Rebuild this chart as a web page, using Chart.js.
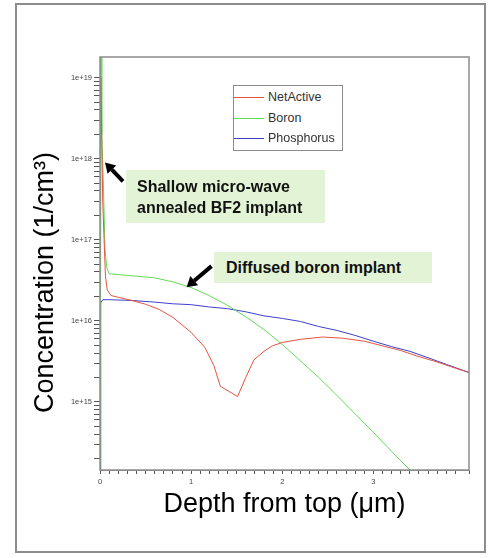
<!DOCTYPE html>
<html>
<head>
<meta charset="utf-8">
<title>Doping profile</title>
<script src="https://cdn.jsdelivr.net/npm/chart.js@4.4.1/dist/chart.umd.min.js"></script>
<style>
    html, body { margin: 0; padding: 0; background: #fff; }
    #wrap { position: relative; width: 491px; height: 558px; font-family: "Liberation Sans", Arial, sans-serif; }
    #chart { position: absolute; left: 0; top: 0; }
    #frame { position: absolute; left: 15px; top: 3px; width: 467px; height: 546px; border: 2px solid #8c8c8c; pointer-events: none; }
    .legend { position: absolute; left: 233px; top: 85px; width: 108px; height: 64px; border: 1px solid #8c8c8c; background: #fff; font-size: 12.5px; color: #333; }
    .legend-row { position: absolute; left: 0; width: 108px; height: 16px; line-height: 16px; }
    .legend-line { position: absolute; left: 0; top: 8px; width: 30px; height: 1px; }
    .legend-text { position: absolute; left: 34px; top: 0; white-space: nowrap; }
    .note { position: absolute; background: #e2f3d6; font-weight: bold; font-size: 16px; color: #111; white-space: nowrap; }
    #note1 { left: 126px; top: 170px; width: 188px; height: 47px; padding: 6px 0 0 11px; line-height: 21px; }
    #note2 { left: 214px; top: 252px; width: 206px; height: 31px; padding: 0 0 0 12px; line-height: 31px; }
</style>
</head>
<body>
<div id="wrap">
    <canvas id="chart" width="491" height="558"></canvas>
    <div id="frame"></div>
    <div class="legend" id="legend"></div>
    <div class="note" id="note1">Shallow micro-wave<br>annealed BF2 implant</div>
    <div class="note" id="note2">Diffused boron implant</div>
</div>
<script>
// --- data (depth in um, concentration in 1/cm3) ---
const netDepth = [0.01, 0.02, 0.03, 0.045, 0.06, 0.08, 0.12, 0.2, 0.35, 0.5, 0.65, 0.8, 1.0, 1.15, 1.25, 1.32,
    1.51, 1.6, 1.69, 1.8, 1.89, 2.0, 2.2, 2.44, 2.66, 2.9, 3.07, 3.3, 3.47, 3.7, 3.9, 4.05];
const netConc = [1e19, 1.5e18, 3e17, 1e17, 3.5e16, 2.4e16, 2.05e16, 1.95e16, 1.78e16, 1.6e16, 1.38e16, 1.1e16, 7.2e15, 4.7e15, 2.8e15, 1.56e15,
    1.16e15, 2.0e15, 3.3e15, 4.2e15, 4.9e15, 5.4e15, 5.9e15, 6.3e15, 6.1e15, 5.6e15, 5.0e15, 4.3e15, 3.7e15, 3.1e15, 2.6e15, 2.3e15];

const boronDepth = [0, 0.012, 0.02, 0.035, 0.055, 0.075, 0.1, 0.3, 0.6, 0.8, 1.0, 1.2,
    1.4, 1.6, 1.8, 2.0, 2.2, 2.4, 2.6, 2.8, 3.0, 3.2, 3.4, 3.5];
const boronConc = [1e13, 1.8e19, 2e18, 6e17, 7.5e16, 4.5e16, 3.8e16, 3.63e16, 3.39e16, 3.02e16, 2.57e16, 2.04e16,
    1.55e16, 1.12e16, 7.8e15, 5.1e15, 3.2e15, 2.0e15, 1.2e15, 7.1e14, 4.2e14, 2.45e14, 1.45e14, 1.12e14];

const phosDepth = [0, 0.008, 0.03, 0.1, 0.35, 0.6, 0.8, 1.0, 1.2, 1.4, 1.6, 1.8,
    2.0, 2.2, 2.4, 2.6, 2.8, 3.0, 3.2, 3.4, 3.6, 3.8, 4.05];
const phosConc = [1e13, 1.66e16, 1.82e16, 1.82e16, 1.78e16, 1.7e16, 1.62e16, 1.58e16, 1.48e16, 1.41e16, 1.29e16, 1.15e16,
    1.07e16, 9.8e15, 8.5e15, 7.6e15, 6.6e15, 5.6e15, 4.8e15, 4.2e15, 3.5e15, 2.9e15, 2.3e15];

const SERIES_LABELS = ["NetActive", "Boron", "Phosphorus"];
const SERIES_COLORS = ["#e5533f", "#62dc58", "#3f3fcf"];

// arrow tips in data coords, tails as pixel offsets from the tip
const ARROWS = [
    { x: 0.055, y: 9e17, dx: 18, dy: 19 },
    { x: 0.95, y: 2.6e16, dx: 25, dy: -21 },
];

const FONT = '"Liberation Sans", Arial, sans-serif';
Chart.defaults.font.family = FONT;

const toPoints = (xs, ys) => xs.map((x, i) => ({ x, y: ys[i] }));

function isDecade(v) {
    const e = Math.log10(v);
    return Math.abs(e - Math.round(e)) < 1e-6;
}

function drawArrow(ctx, tipX, tipY, tailX, tailY) {
    const ang = Math.atan2(tipY - tailY, tipX - tailX);
    const headLen = 10, headW = 6;
    const bx = tipX - headLen * Math.cos(ang);
    const by = tipY - headLen * Math.sin(ang);
    ctx.beginPath();
    ctx.moveTo(tailX, tailY);
    ctx.lineTo(bx, by);
    ctx.lineWidth = 4;
    ctx.strokeStyle = "#000";
    ctx.stroke();
    ctx.beginPath();
    ctx.moveTo(tipX, tipY);
    ctx.lineTo(bx + headW * Math.sin(ang), by - headW * Math.cos(ang));
    ctx.lineTo(bx - headW * Math.sin(ang), by + headW * Math.cos(ang));
    ctx.closePath();
    ctx.fillStyle = "#000";
    ctx.fill();
}

// plot frame, arrows and the y title (sits a bit below the plot centre in the original)
const plotExtras = {
    id: "plotExtras",
    afterDraw(chart) {
        const { ctx, chartArea: a, scales } = chart;
        ctx.save();
        ctx.strokeStyle = "#8c8c8c";
        ctx.lineWidth = 1.5;
        ctx.strokeRect(a.left, a.top, a.right - a.left, a.bottom - a.top);
        ARROWS.forEach(ar => {
            const tx = scales.x.getPixelForValue(ar.x);
            const ty = scales.y.getPixelForValue(ar.y);
            drawArrow(ctx, tx, ty, tx + ar.dx, ty + ar.dy);
        });
        ctx.translate(45.5, 282.5);
        ctx.rotate(-Math.PI / 2);
        ctx.font = "27px " + FONT;
        ctx.fillStyle = "#000";
        ctx.textAlign = "center";
        ctx.textBaseline = "middle";
        ctx.fillText("Concentration (1/cm\u00B3)", 0, 0);
        ctx.restore();
    },
};

const datasets = [
    toPoints(netDepth, netConc),
    toPoints(boronDepth, boronConc),
    toPoints(phosDepth, phosConc),
].map((data, i) => ({
    label: SERIES_LABELS[i],
    data,
    borderColor: SERIES_COLORS[i],
    backgroundColor: SERIES_COLORS[i],
    borderWidth: 1,
    pointRadius: 0,
    tension: 0,
}));

const chart = new Chart(document.getElementById("chart"), {
    type: "line",
    data: { datasets },
    options: {
        responsive: false,
        animation: false,
        layout: { padding: { left: 29, top: 57, right: 22, bottom: 37 } },
        plugins: { legend: { display: false }, tooltip: { enabled: false } },
        scales: {
            x: {
                type: "linear",
                min: 0,
                max: 4.05,
                afterFit: s => { s.height = 51; },
                ticks: {
                    stepSize: 0.1,
                    autoSkip: false,
                    maxRotation: 0,
                    padding: 3,
                    color: "#444",
                    font: { size: 7.5 },
                    callback: v => Math.abs(v - Math.round(v)) < 1e-6 ? String(Math.round(v)) : "",
                },
                grid: { drawOnChartArea: false, tickLength: 4, tickColor: "#555" },
                border: { color: "#8c8c8c" },
                title: { display: true, text: "Depth from top (\u03BCm)", color: "#000", padding: 0, font: { size: 27 } },
            },
            y: {
                type: "logarithmic",
                min: 1.44e14,
                max: 1.8e19,
                afterFit: s => { s.width = 71; },
                afterBuildTicks: s => {
                    s.ticks = s.ticks.filter(t => {
                        const m = t.value / Math.pow(10, Math.floor(Math.log10(t.value) + 1e-9));
                        return Math.abs(m - Math.round(m)) < 1e-6;
                    });
                },
                ticks: {
                    autoSkip: false,
                    padding: 2,
                    color: "#444",
                    font: { size: 7.5 },
                    callback: v => isDecade(v) ? "1e+" + Math.round(Math.log10(v)) : "",
                },
                grid: { drawOnChartArea: false, tickLength: 6, tickColor: "#555" },
                border: { color: "#8c8c8c" },
            },
        },
    },
    plugins: [plotExtras],
});

// legend box inside the plot, built from the datasets
const legend = document.getElementById("legend");
const rowCenters = [11, 32, 52];
legend.innerHTML = chart.data.datasets.map((ds, i) => `
    <div class="legend-row" style="top:${rowCenters[i] - 8}px">
        <span class="legend-line" style="background:${ds.borderColor}"></span>
        <span class="legend-text">${ds.label}</span>
    </div>`).join("");
</script>
</body>
</html>
